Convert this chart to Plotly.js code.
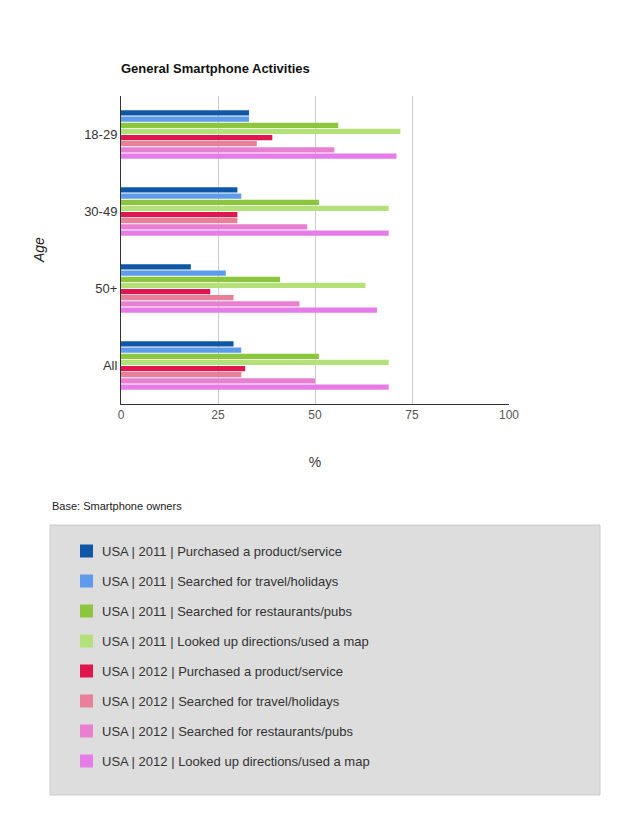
<!DOCTYPE html>
<html>
<head>
<meta charset="utf-8">
<script src="https://cdn.plot.ly/plotly-3.0.1.min.js"></script>
<style>body{margin:0;background:#fff}</style>
</head>
<body>
<div id="chart" style="width:630px;height:815px"></div>
<script>
// age groups, top to bottom
let ages = ['18-29', '30-49', '50+', 'All']

let seriesNames = [
    'USA | 2011 | Purchased a product/service',
    'USA | 2011 | Searched for travel/holidays',
    'USA | 2011 | Searched for restaurants/pubs',
    'USA | 2011 | Looked up directions/used a map',
    'USA | 2012 | Purchased a product/service',
    'USA | 2012 | Searched for travel/holidays',
    'USA | 2012 | Searched for restaurants/pubs',
    'USA | 2012 | Looked up directions/used a map'
]

// values per series, in the order of ages
let purchased2011 = [33, 30, 18, 29]
let travel2011 = [33, 31, 27, 31]
let restaurants2011 = [56, 51, 41, 51]
let directions2011 = [72, 69, 63, 69]
let purchased2012 = [39, 30, 23, 32]
let travel2012 = [35, 30, 29, 31]
let restaurants2012 = [55, 48, 46, 50]
let directions2012 = [71, 69, 66, 69]

let seriesValues = [purchased2011, travel2011, restaurants2011, directions2011,
    purchased2012, travel2012, restaurants2012, directions2012]

let colors = ['#0f56a6', '#5e9bec', '#8cc63e', '#b4e07a', '#e0174f', '#e9809a', '#e87fd0', '#e67ce8']

let traces = []
for (let i = 0; i < seriesValues.length; i++) {
    traces.push({
        type: 'bar',
        orientation: 'h',
        y: ages,
        x: seriesValues[i],
        name: seriesNames[i],
        marker: { color: colors[i] },
        hoverinfo: 'x+name'
    })
}

// legend built by hand so item spacing matches
let toPaperX = px => (px - 121) / 388
let toPaperY = py => (404 - py) / 308

let shapes = [{
    type: 'rect', xref: 'paper', yref: 'paper',
    x0: toPaperX(50), x1: toPaperX(600), y0: toPaperY(525), y1: toPaperY(795),
    fillcolor: '#dddddd', line: { color: '#cccccc', width: 1 }, layer: 'below'
}]
let annotations = [
    { xref: 'paper', yref: 'paper', x: toPaperX(50), y: toPaperY(506), xanchor: 'left', yanchor: 'middle',
      text: 'Base: Smartphone owners', showarrow: false, font: { size: 11, color: '#222' } },
    { xref: 'paper', yref: 'paper', x: toPaperX(39), y: 0.5, textangle: -90, xanchor: 'center', yanchor: 'middle',
      text: '<i>Age</i>', showarrow: false, font: { size: 14, color: '#222' } }
]
for (let i = 0; i < seriesNames.length; i++) {
    let cy = 551 + i * 30
    shapes.push({
        type: 'rect', xref: 'paper', yref: 'paper',
        x0: toPaperX(80), x1: toPaperX(93), y0: toPaperY(cy - 6.5), y1: toPaperY(cy + 6.5),
        fillcolor: colors[i], line: { width: 0 }
    })
    annotations.push({
        xref: 'paper', yref: 'paper', x: toPaperX(100), y: toPaperY(cy), xanchor: 'left', yanchor: 'middle',
        text: seriesNames[i], showarrow: false, font: { size: 13, color: '#333' }
    })
}

Plotly.newPlot('chart', traces, {
    width: 630,
    height: 815,
    margin: { l: 121, r: 121, t: 96, b: 411 },
    font: { family: 'Liberation Sans, Arial, sans-serif', color: '#444' },
    paper_bgcolor: '#fff',
    plot_bgcolor: '#fff',
    title: { text: '<b>General Smartphone Activities</b>', x: 121 / 630, xanchor: 'left', y: 1 - 68 / 815, yanchor: 'middle',
             font: { size: 13, color: '#111' } },
    barmode: 'group',
    bargap: 0.36,
    bargroupgap: 0.15,
    showlegend: false,
    xaxis: {
        range: [0, 100], tickvals: [0, 25, 50, 75, 100], showgrid: true, gridcolor: '#cccccc',
        zeroline: false, showline: true, linecolor: '#333', ticks: '', tickfont: { size: 12, color: '#555' },
        title: { text: '%', font: { size: 14, color: '#333' }, standoff: 35 }
    },
    yaxis: {
        autorange: 'reversed', showline: true, linecolor: '#333', ticks: '', ticklen: 0,
        tickfont: { size: 13, color: '#333' }, automargin: false
    },
    shapes: shapes,
    annotations: annotations
}, { displayModeBar: false })
</script>
</body>
</html>
